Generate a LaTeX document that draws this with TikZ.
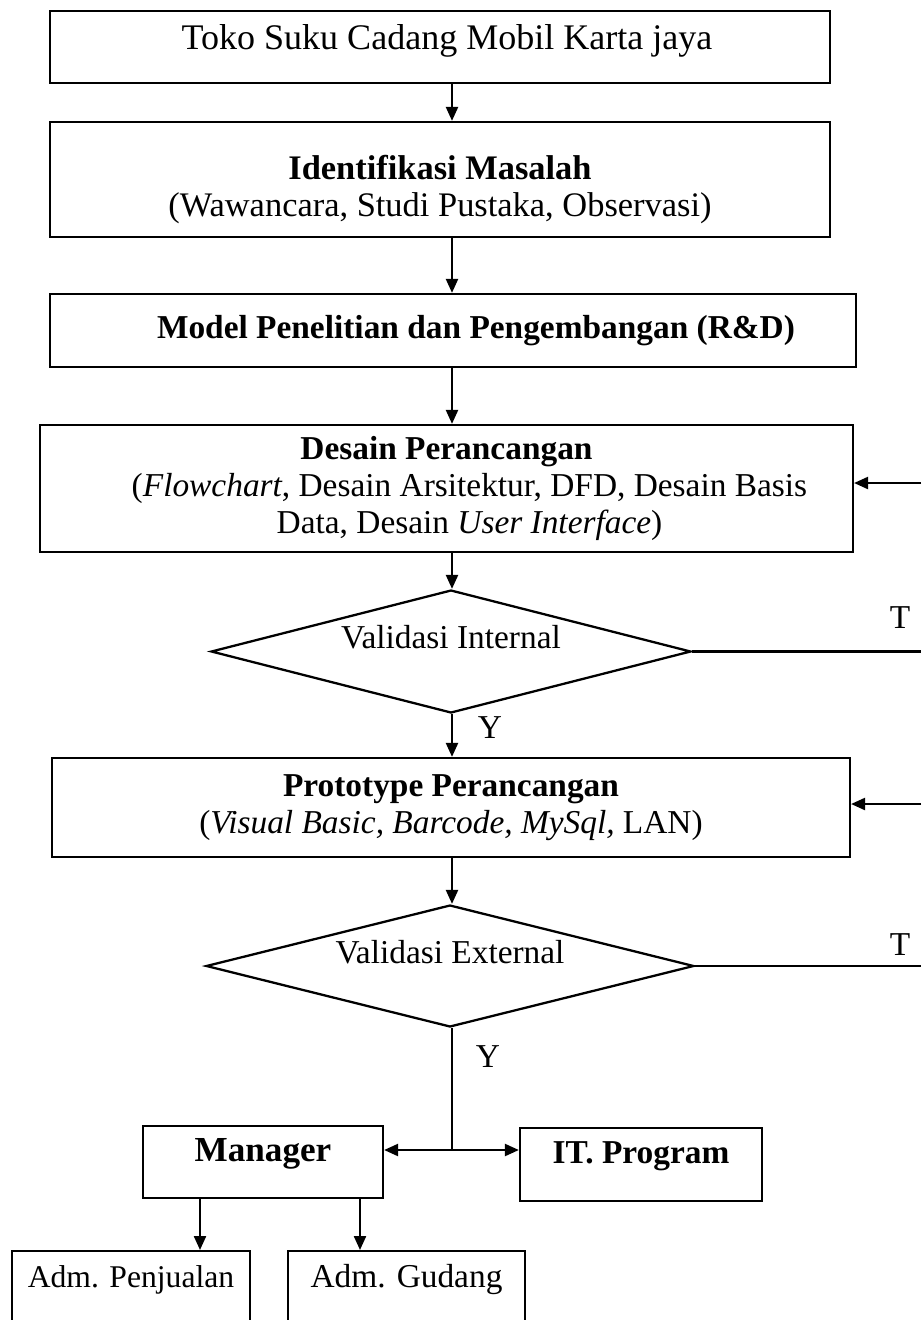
\documentclass[tikz,border=0pt]{standalone}
\usepackage{fontspec}
\setmainfont{Liberation Serif}
\usetikzlibrary{shapes.geometric, arrows.meta, positioning}

\begin{document}
\begin{tikzpicture}[
        x=0.02cm, y=-0.02cm,
        box/.style={rectangle, draw=black, line width=1.3pt, align=center, font=\fontsize{19}{21}\selectfont},
        decision/.style={diamond, draw=black, line width=1.3pt, inner sep=0pt, aspect=3.9, align=center, text height=0.4cm, text depth=0.52cm, font=\fontsize{19}{21}\selectfont},
        arrow/.style={-{Triangle[length=0.28cm, width=0.24cm]}, line width=1.3pt},
        line/.style={line width=1.3pt},
        lbl/.style={font=\fontsize{19}{21}\selectfont, inner sep=0pt}
    ]
    \useasboundingbox (0,0) rectangle (921,1320);

    \coordinate (trunk) at (452,0);

    \node[box, anchor=north, minimum width=15.6cm, inner ysep=0pt, text height=0.77cm, text depth=0.67cm, font=\fontsize{20.5}{21}\selectfont] (toko) at (440,10) {\hspace*{0.28cm}Toko Suku Cadang Mobil Karta jaya};
    \node[box, minimum width=15.6cm, minimum height=2.3cm, font=\fontsize{19.6}{21}\selectfont] (ident) at (440,179.5) {\rule{0pt}{0.9cm}\textbf{Identifikasi Masalah}\\(Wawancara, Studi Pustaka, Observasi)};
    \node[box, minimum width=16.12cm, minimum height=1.46cm] (model) at (453,330.5) {\hspace*{0.92cm}\textbf{Model Penelitian dan Pengembangan (R\&D)}};
    \node[box, minimum width=16.26cm, minimum height=2.54cm] (desain) at (446.5,488.5) {\textbf{Desain Perancangan}\\\hspace*{0.92cm}(\textit{Flowchart}, Desain Arsitektur, DFD, Desain Basis\\\hspace*{0.92cm}Data, Desain \textit{User Interface})};
    \node[decision, minimum width=9.6cm, minimum height=2.46cm] (valint) at (451,651.5) {Validasi Internal};
    \node[box, minimum width=15.96cm, minimum height=1.98cm] (proto) at (451,807.5) {\textbf{Prototype Perancangan}\\(\textit{Visual Basic, Barcode, MySql,} LAN)};
    \node[decision, minimum width=9.76cm, minimum height=2.44cm] (valext) at (450,966) {Validasi External};

    \node[box, anchor=north, minimum width=4.8cm, inner ysep=0pt, text height=0.71cm, text depth=0.73cm, font=\fontsize{20}{21}\selectfont] (mgr) at (263,1125) {\textbf{Manager}};
    \node[box, anchor=north, minimum width=4.84cm, inner ysep=0pt, text height=0.71cm, text depth=0.75cm] (it) at (641,1127) {\textbf{IT. Program}};
    \node[box, anchor=north, minimum width=4.76cm, inner ysep=0pt, text height=0.73cm, text depth=2cm, font=\fontsize{18}{21}\selectfont] (admjual) at (131,1250) {Adm. Penjualan};
    \node[box, anchor=north, minimum width=4.74cm, inner ysep=0pt, text height=0.73cm, text depth=2cm] (admgud) at (406.5,1250) {Adm. Gudang};

    \node[lbl] (yint) at (490,728) {Y};
    \node[lbl] (yext) at (488,1057) {Y};
    \node[lbl] (tint) at (900,618) {T};
    \node[lbl] (text) at (900,945) {T};

    % main flow
    \draw[arrow] (toko.south -| trunk) -- (ident.north -| trunk);
    \draw[arrow] (ident.south -| trunk) -- (model.north -| trunk);
    \draw[arrow] (model.south -| trunk) -- (desain.north -| trunk);
    \draw[arrow] (desain.south -| trunk) -- (valint.north -| trunk);
    \draw[arrow] (valint.south -| trunk) -- (proto.north -| trunk);
    \draw[arrow] (proto.south -| trunk) -- (valext.north -| trunk);

    % back to the design steps
    \coordinate (rint) at (921,651.5);
    \coordinate (rdes) at (921,483);
    \coordinate (rext) at (921,966);
    \coordinate (rpro) at (921,804);
    \draw[line] (valint.east) -- (rint);
    \draw[arrow] (rdes) -- (rdes -| desain.east);
    \draw[line] (valext.east) -- (rext);
    \draw[arrow] (rpro) -- (rpro -| proto.east);

    % users
    \coordinate (split) at (452,1150);
    \draw[line] (valext.south -| trunk) -- (split);
    \draw[arrow] (split) -- (split -| mgr.east);
    \draw[arrow] (split) -- (split -| it.west);
    \coordinate (mgrl) at (200,1197);
    \coordinate (mgrr) at (360,1197);
    \draw[arrow] (mgrl) -- (mgrl |- admjual.north);
    \draw[arrow] (mgrr) -- (mgrr |- admgud.north);
\end{tikzpicture}
\end{document}
